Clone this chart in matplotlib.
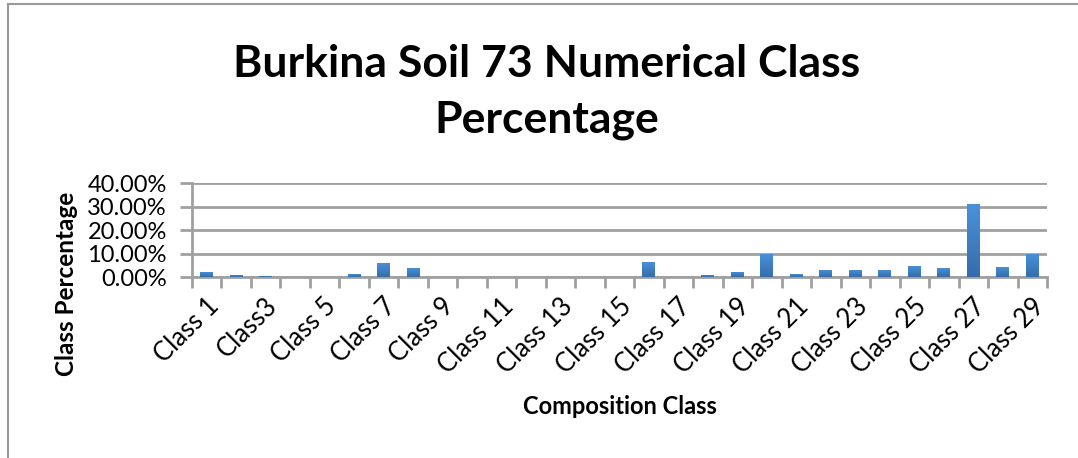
import matplotlib
matplotlib.use("Agg")
import matplotlib.pyplot as plt
import numpy as np
from matplotlib.lines import Line2D
from matplotlib.ticker import FuncFormatter
from matplotlib.colors import LinearSegmentedColormap
from matplotlib.transforms import offset_copy, blended_transform_factory

plt.rcParams['font.family'] = ['Lato', 'DejaVu Sans']

categories = ["Class 1", "Class3", "Class 3", "Class 4", "Class 5", "Class 6", "Class 7",
              "Class 8", "Class 9", "Class 10", "Class 11", "Class 12", "Class 13",
              "Class 14", "Class 15", "Class 16", "Class 17", "Class 18", "Class 19",
              "Class 20", "Class 21", "Class 22", "Class 23", "Class 24", "Class 25",
              "Class 26", "Class 27", "Class 28", "Class 29"]
# label shown in the reference for every other class
shown_labels = ["Class 1", "Class3", "Class 5", "Class 7", "Class 9", "Class 11",
                "Class 13", "Class 15", "Class 17", "Class 19", "Class 21", "Class 23",
                "Class 25", "Class 27", "Class 29"]
values = [0.023, 0.010, 0.006, 0.0, 0.0, 0.014, 0.061, 0.040, 0.0, 0.0, 0.0, 0.0,
          0.0, 0.0, 0.0, 0.065, 0.0, 0.010, 0.023, 0.099, 0.014, 0.031, 0.031,
          0.031, 0.048, 0.040, 0.312, 0.044, 0.099]
yticks = [0.0, 0.1, 0.2, 0.3, 0.4]

title_lines = ["Burkina Soil 73 Numerical Class", "Percentage"]
xlabel = "Composition Class"
ylabel = "Class Percentage"

W, H = 1078, 458
fig = plt.figure(figsize=(W / 100, H / 100), dpi=100)
fig.patch.set_facecolor("white")

# outer chart border (left and top visible)
fig.add_artist(Line2D([7.5 / W, 7.5 / W], [0, 1 - 4 / H], color="#9a9a9a", lw=1.5))
fig.add_artist(Line2D([7.5 / W, 1], [1 - 4 / H, 1 - 4 / H], color="#9a9a9a", lw=1.5))

ax = fig.add_axes([192 / W, 1 - 277.3 / H, (1047 - 192) / W, (277.3 - 183.3) / H])

x = np.arange(len(values))
bars = ax.bar(x, values, width=0.44, color="#4383CB", zorder=3)

# vertical gradient on each bar
grad = np.linspace(0, 1, 64).reshape(-1, 1)
cmap = LinearSegmentedColormap.from_list("g", ["#356DAA", "#4A92DB"])
for b in bars:
    h = b.get_height()
    if h <= 0:
        continue
    x0 = b.get_x()
    im = ax.imshow(grad, extent=[x0, x0 + b.get_width(), 0, h], origin="lower",
                   cmap=cmap, aspect="auto", zorder=3.5)
    im.set_clip_path(b)

ax.set_xlim(-0.5, len(values) - 0.5)
ax.set_ylim(0, 0.4)
ax.set_yticks(yticks)
ax.yaxis.set_major_formatter(FuncFormatter(lambda v, p: f"{v * 100:.2f}%"))
ax.grid(axis="y", color="#a0a0a0", lw=2, zorder=1)
ax.set_axisbelow(True)

for s in ["top", "right"]:
    ax.spines[s].set_visible(False)
for s in ["left", "bottom"]:
    ax.spines[s].set_color("#a0a0a0")
    ax.spines[s].set_linewidth(2)

ax.tick_params(axis="y", length=9, width=2, color="#a0a0a0", labelsize=17, pad=9,
               labelcolor="#000000")

# x ticks at category boundaries
ax.set_xticks(np.arange(-0.5, len(values), 1.0))
ax.set_xticklabels([])
ax.tick_params(axis="x", length=8, width=2, color="#a0a0a0")

# rotated labels for every other category
trans = blended_transform_factory(ax.transData, ax.transAxes)
trans = offset_copy(trans, fig=fig, x=8, y=-25, units="dots")
for i, lab in zip(range(0, len(values), 2), shown_labels):
    ax.text(i, 0, lab, transform=trans, rotation=45, rotation_mode="anchor",
            ha="right", va="center", fontsize=18.5)

fig.text(547 / W, 1 - 77 / H, title_lines[0], ha="center", va="baseline",
         fontsize=32, fontweight="bold")
fig.text(547 / W, 1 - 133 / H, title_lines[1], ha="center", va="baseline",
         fontsize=32, fontweight="bold")
fig.text(620 / W, 1 - 407 / H, xlabel, ha="center", va="center", fontsize=17,
         fontweight="bold")
fig.text(66 / W, 1 - 284 / H, ylabel, ha="center", va="center", fontsize=17.5,
         fontweight="bold", rotation=90)

fig.savefig("out.png", dpi=100)
